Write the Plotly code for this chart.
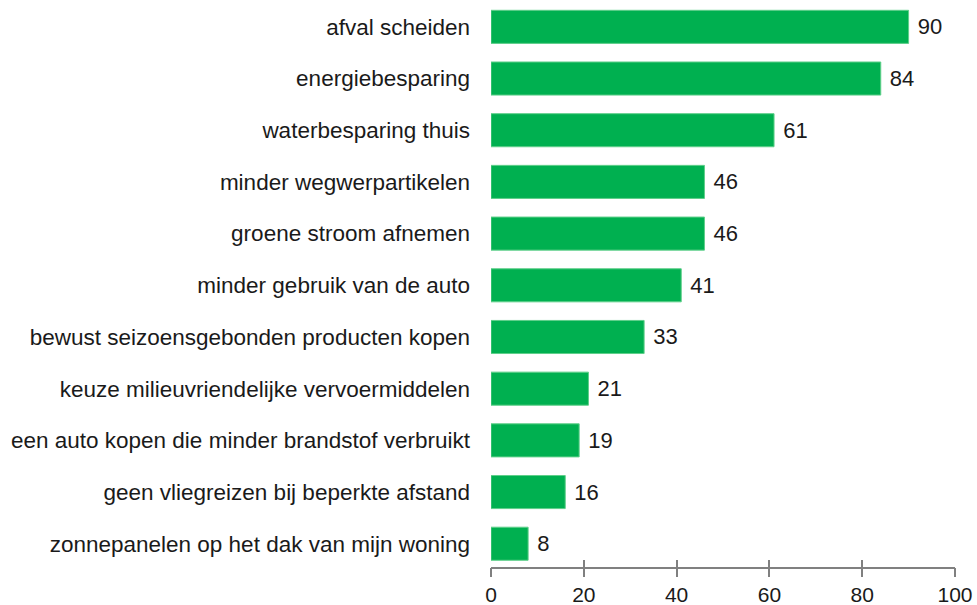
import plotly.graph_objects as go

categories = [
    "afval scheiden",
    "energiebesparing",
    "waterbesparing thuis",
    "minder wegwerpartikelen",
    "groene stroom afnemen",
    "minder gebruik van de auto",
    "bewust seizoensgebonden producten kopen",
    "keuze milieuvriendelijke vervoermiddelen",
    "een auto kopen die minder brandstof verbruikt",
    "geen vliegreizen bij beperkte afstand",
    "zonnepanelen op het dak van mijn woning",
]
values = [90, 84, 61, 46, 46, 41, 33, 21, 19, 16, 8]
tick_values = [0, 20, 40, 60, 80, 100]

FONT = "Liberation Sans, Arial, sans-serif"

fig = go.Figure()
fig.add_trace(go.Bar(
    y=categories, x=values, orientation="h",
    marker=dict(color="#00B050", line=dict(color="#5fcf8a", width=1)),
    width=0.64,
    text=[" " + str(v) for v in values], textposition="outside",
    textfont=dict(family=FONT, size=22, color="#1a1a1a"),
    cliponaxis=False,
))
# invisible trace for crossing ticks (outer part)
fig.add_trace(go.Scatter(x=[0, 100], y=[categories[0], categories[0]], xaxis="x2",
                         mode="markers", marker=dict(opacity=0), hoverinfo="skip",
                         showlegend=False))

fig.update_layout(
    width=977, height=605,
    margin=dict(l=491, r=22, t=1, b=38, autoexpand=False),
    plot_bgcolor="white", paper_bgcolor="white",
    showlegend=False,
    font=dict(family=FONT, size=22, color="#1a1a1a"),
    xaxis=dict(range=[0, 100], tickvals=tick_values, showgrid=False, zeroline=False,
               showline=True, linecolor="#808080", linewidth=2, automargin=False,
               ticks="inside", ticklen=7, tickwidth=2, tickcolor="#808080",
               ticklabelstandoff=8,
               tickfont=dict(size=21, color="#1a1a1a")),
    xaxis2=dict(range=[0, 100], tickvals=tick_values, overlaying="x", side="bottom",
                showgrid=False, zeroline=False, showline=False, showticklabels=False,
                automargin=False,
                ticks="outside", ticklen=9, tickwidth=2, tickcolor="#808080"),
    yaxis=dict(range=[10.45, -0.5], showgrid=False, zeroline=False, showline=False,
               automargin=False, ticks="", ticklabelstandoff=20,
               tickfont=dict(size=22.5, color="#1a1a1a")),
)

fig.write_html("out.html", config={"displayModeBar": False},
               post_script="document.body.style.margin='0';")
